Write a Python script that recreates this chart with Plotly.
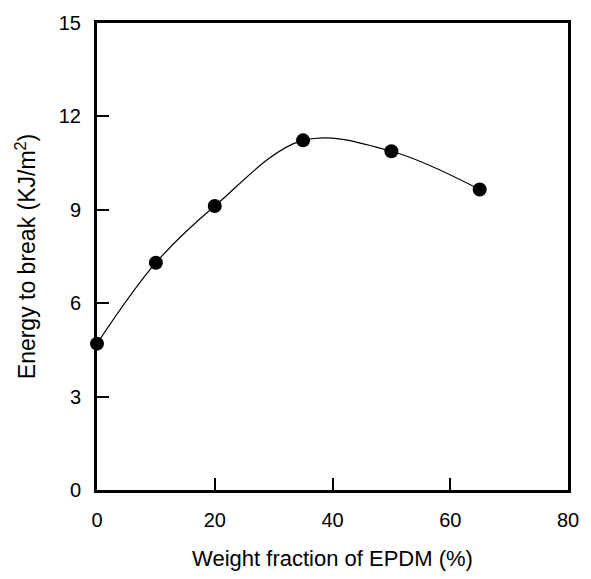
import plotly.graph_objects as go

epdm_wt = [0, 10, 20, 35, 50, 65]
energy_break = [4.7, 7.3, 9.12, 11.23, 10.88, 9.65]

x_ticks = [0, 20, 40, 60, 80]
y_ticks = [0, 3, 6, 9, 12, 15]

fig = go.Figure()
fig.add_trace(go.Scatter(
    x=epdm_wt, y=energy_break, mode="lines",
    line=dict(color="black", width=1.2, shape="spline", smoothing=1.0),
    showlegend=False, hoverinfo="skip"))
fig.add_trace(go.Scatter(
    x=epdm_wt, y=energy_break, mode="markers",
    marker=dict(color="black", size=14),
    showlegend=False, cliponaxis=False))

font = dict(family="Liberation Sans, Arial, sans-serif", color="black")
axis_common = dict(
    showline=True, linecolor="black", linewidth=3, mirror=True,
    ticks="inside", ticklen=12, tickwidth=1.5, tickcolor="black",
    showgrid=False, zeroline=False,
    tickfont=dict(size=20, **font),
)
fig.update_xaxes(range=[0, 80], tickvals=x_ticks, ticklabelstandoff=10,
                 title=dict(text="Weight fraction of EPDM (%)", font=dict(size=22, **font), standoff=21),
                 **axis_common)
fig.update_yaxes(range=[0, 15], tickvals=y_ticks, ticklabelstandoff=9,
                 title=dict(text="Energy to break (KJ/m<sup>2</sup>)", font=dict(size=23, **font), standoff=17),
                 **axis_common)
fig.update_layout(
    width=591, height=579,
    margin=dict(l=97, r=15, t=21, b=82),
    paper_bgcolor="white", plot_bgcolor="white",
)
fig.write_html("out.html", config={"displayModeBar": False},
               post_script="document.body.style.margin='0';document.body.style.padding='0';document.body.style.overflow='hidden';")
